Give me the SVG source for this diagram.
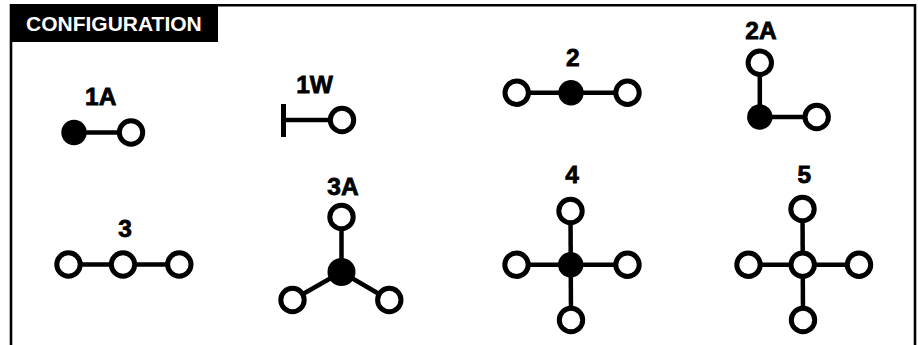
<svg xmlns="http://www.w3.org/2000/svg" width="918" height="345" viewBox="0 0 918 345">
<style>
text{font-family:"Liberation Sans",Arial,sans-serif;font-weight:700;fill:#000}
.lb{font-size:24.500px;text-anchor:middle;stroke:#000;stroke-width:.8}
.o{fill:#fff;stroke:#000;stroke-width:5}
.f{fill:#000}
#connectors line{stroke:#000;stroke-width:4.500;fill:none}
</style>
<rect width="918" height="345" fill="#fff"/>
<path id="frame" d="M11 345V5.300H915V345" fill="none" stroke="#000" stroke-width="2.600"/>
<g id="header"><rect x="10" y="4" width="208" height="38" fill="#000"/><text x="26" y="31" font-size="21" style="fill:#fff">CONFIGURATION</text></g>
<g id="connectors">
<line x1="74" y1="132.500" x2="131" y2="132.500"/>
<line x1="283" y1="120" x2="342" y2="120"/>
<line x1="516.700" y1="92.700" x2="627.500" y2="92.700"/>
<line x1="759.800" y1="62.800" x2="759.800" y2="117"/>
<line x1="759.800" y1="117" x2="816.700" y2="117"/>
<line x1="68.500" y1="264.500" x2="179.300" y2="264.500"/>
<line x1="341.500" y1="217" x2="341.500" y2="272"/>
<line x1="341.500" y1="272" x2="292.500" y2="300"/>
<line x1="341.500" y1="272" x2="389.300" y2="300"/>
<line x1="570.500" y1="211" x2="571" y2="320"/>
<line x1="516.500" y1="264.800" x2="627.500" y2="264.800"/>
<line x1="802.500" y1="209" x2="803" y2="320"/>
<line x1="748.500" y1="264.800" x2="859" y2="264.800"/>
</g>
<g id="n1A"><text class="lb" x="100.700" y="105">1A</text><circle class="f" cx="74" cy="132.500" r="12.700"/><circle class="o" cx="131" cy="132.500" r="11.700"/></g>
<g id="n1W"><text class="lb" x="314.500" y="92.500">1W</text><rect x="281" y="104" width="5" height="33" fill="#000"/><circle class="o" cx="342" cy="120" r="11.700"/></g>
<g id="n2"><text class="lb" x="572.700" y="65.500">2</text><circle class="o" cx="516.700" cy="92.700" r="11.700"/><circle class="f" cx="571" cy="92.700" r="12.700"/><circle class="o" cx="627.500" cy="92.700" r="11.700"/></g>
<g id="n2A"><text class="lb" x="761" y="39">2A</text><circle class="o" cx="759.800" cy="62.800" r="11.700"/><circle class="f" cx="759.800" cy="117" r="12.700"/><circle class="o" cx="816.700" cy="117" r="11.700"/></g>
<g id="n3"><text class="lb" x="125" y="236.500">3</text><circle class="o" cx="68.500" cy="264.500" r="11.700"/><circle class="o" cx="123" cy="264.500" r="11.700"/><circle class="o" cx="179.300" cy="264.500" r="11.700"/></g>
<g id="n3A"><text class="lb" x="343" y="195">3A</text><circle class="o" cx="341.500" cy="217" r="11.700"/><circle class="f" cx="341.500" cy="272" r="14"/><circle class="o" cx="292.500" cy="300" r="11.700"/><circle class="o" cx="389.300" cy="300" r="11.700"/></g>
<g id="n4"><text class="lb" x="572" y="182.500">4</text><circle class="o" cx="570.500" cy="211" r="11.700"/><circle class="f" cx="570.700" cy="264.800" r="12.700"/><circle class="o" cx="516.500" cy="264.800" r="11.700"/><circle class="o" cx="627.500" cy="264.800" r="11.700"/><circle class="o" cx="571" cy="320" r="11.700"/></g>
<g id="n5"><text class="lb" x="804.300" y="182.500">5</text><circle class="o" cx="802.500" cy="209" r="11.700"/><circle class="o" cx="802.700" cy="264.800" r="11.700"/><circle class="o" cx="748.500" cy="264.800" r="11.700"/><circle class="o" cx="859" cy="264.800" r="11.700"/><circle class="o" cx="803" cy="320" r="11.700"/></g>
</svg>
